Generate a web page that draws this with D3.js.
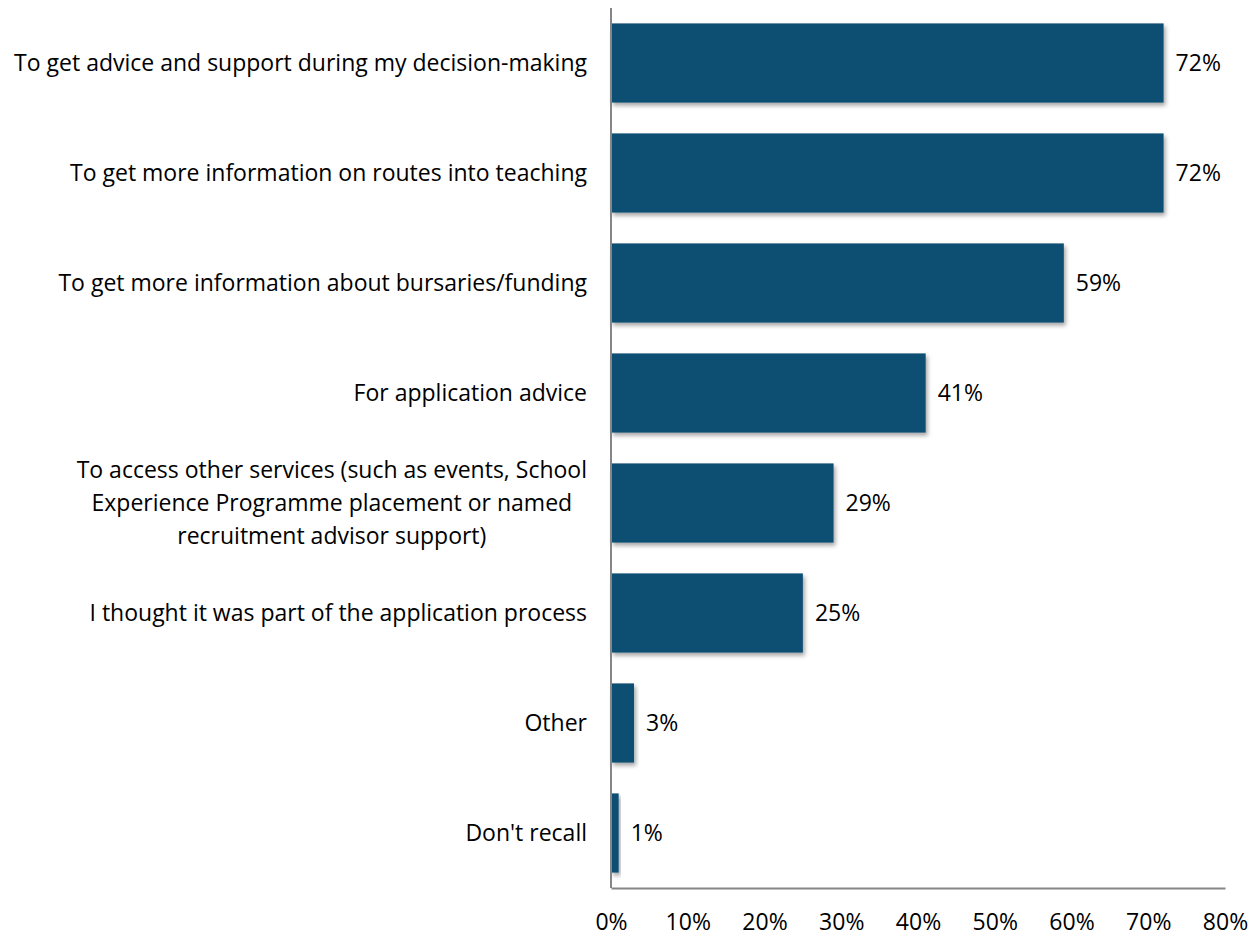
<!DOCTYPE html>
<html>
<head>
<meta charset="utf-8">
<script src="https://cdn.jsdelivr.net/npm/d3@7"></script>
<style>
  body { margin: 0; background: #fff; }
  svg { display: block; }
  text { font-family: "Open Sans", "Liberation Sans", sans-serif; fill: #000; }
</style>
</head>
<body>
<svg id="chart" width="1259" height="938"></svg>
<script>
// Reasons for contacting the service (share of respondents)
const categories = [
  "To get advice and support during my decision-making",
  "To get more information on routes into teaching",
  "To get more information about bursaries/funding",
  "For application advice",
  "To access other services (such as events, School|Experience Programme placement or named|recruitment advisor support)",
  "I thought it was part of the application process",
  "Other",
  "Don't recall"
];
const values = [72, 72, 59, 41, 29, 25, 3, 1];
const tickValues = [0, 10, 20, 30, 40, 50, 60, 70, 80];

const FS = 23;
const svg = d3.select("#chart");
const margin = { left: 611, right: 34, top: 8, bottom: 50 };
const W = 1259, H = 938;

const x = d3.scaleLinear().domain([0, 80]).range([margin.left, W - margin.right]);
const y = d3.scaleBand().domain(categories).range([margin.top, H - margin.bottom]).paddingInner(0.28).paddingOuter(0.14);

// soft drop shadow under each bar
const defs = svg.append("defs");
const f = defs.append("filter").attr("id", "shadow").attr("x", "-10%").attr("y", "-10%").attr("width", "130%").attr("height", "140%");
f.append("feDropShadow").attr("dx", 2).attr("dy", 3).attr("stdDeviation", 2).attr("flood-color", "#000").attr("flood-opacity", 0.35);

// bars
svg.append("g").selectAll("rect").data(values).join("rect")
  .attr("x", x(0))
  .attr("y", (d, i) => y(categories[i]))
  .attr("width", d => x(d) - x(0))
  .attr("height", y.bandwidth())
  .attr("fill", "#114f72")
  .attr("filter", "url(#shadow)");

// value labels
svg.append("g").selectAll("text").data(values).join("text")
  .attr("x", d => x(d) + 12)
  .attr("y", (d, i) => y(categories[i]) + y.bandwidth() / 2)
  .attr("dy", "0.35em")
  .attr("font-size", FS)
  .text(d => d + "%");

// category labels (multi-line where split by "|")
const catG = svg.append("g");
categories.forEach(c => {
  const lines = c.split("|");
  const cy = y(c) + y.bandwidth() / 2;
  const lh = 33;
  const t = catG.append("text")
    .attr("text-anchor", "end")
    .attr("font-size", FS);
  lines.forEach((ln, k) => {
    t.append("tspan")
      .attr("x", lines.length > 1 ? 0 : 587)
      .attr("y", cy + (k - (lines.length - 1) / 2) * lh)
      .attr("dy", "0.35em")
      .text(ln);
  });
  if (lines.length > 1) {
    // multi-line label: lines are centred on each other, block right-aligned
    t.attr("text-anchor", "middle");
    const bb = t.node().getBBox();
    t.selectAll("tspan").attr("x", 587 - bb.width / 2);
  }
});

// x axis
const xAxis = d3.axisBottom(x).tickValues(tickValues).tickSize(0).tickPadding(26).tickFormat(d => d + "%");
const gx = svg.append("g").attr("transform", `translate(0,${H - margin.bottom})`).call(xAxis);
gx.select(".domain").attr("stroke", "#868686").attr("stroke-width", 2);
gx.selectAll("text").attr("font-size", FS).attr("font-family", "Open Sans, Liberation Sans, sans-serif");

// y axis line
svg.append("line")
  .attr("x1", x(0)).attr("x2", x(0))
  .attr("y1", margin.top).attr("y2", H - margin.bottom)
  .attr("stroke", "#868686").attr("stroke-width", 2);
</script>
</body>
</html>
